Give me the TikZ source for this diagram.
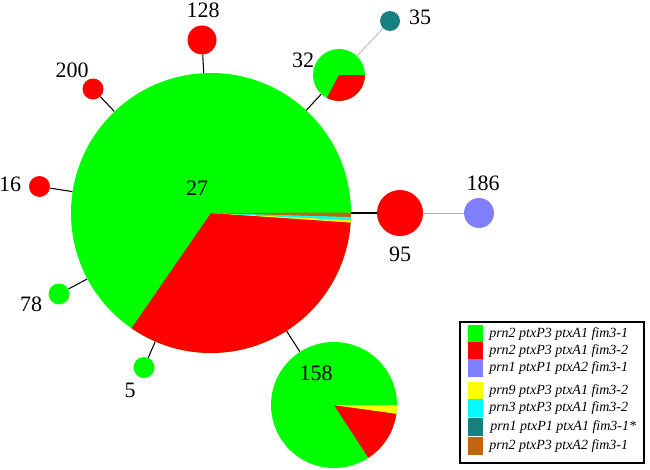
\documentclass[tikz,border=0pt]{standalone}
\usepackage{fontspec}
\setmainfont{Liberation Serif}
\usetikzlibrary{positioning}
\definecolor{stgreen}{RGB}{0,255,0}
\definecolor{stred}{RGB}{255,0,0}
\definecolor{stblue}{RGB}{128,128,255}
\definecolor{styellow}{RGB}{255,255,0}
\definecolor{stcyan}{RGB}{0,255,255}
\definecolor{stteal}{RGB}{24,128,128}
\definecolor{stbrown}{RGB}{192,100,16}
\tikzstyle{st} = [circle, inner sep=0pt, draw=none]
\tikzstyle{num} = [inner sep=0pt, font=\fontsize{16.5}{18}\selectfont]
\tikzstyle{link} = [black, line width=0.8pt]
\tikzstyle{farlink} = [gray!60, line width=0.6pt]
\tikzstyle{swatch} = [rectangle, inner sep=0pt, minimum width=11.25pt, minimum height=13.5pt]
\tikzstyle{entry} = [anchor=west, inner sep=0pt, font=\fontsize{10.5}{12}\selectfont\itshape]
\newcommand{\pieslice}[5]{\fill[#5] (#1.center) -- ++(#2:#4) arc[start angle=#2, end angle=#3, radius=#4] -- cycle;}
\begin{document}
\begin{tikzpicture}[x=0.75pt, y=0.75pt]
\useasboundingbox (0,0) rectangle (650,469);

% Central sequence type
\node[st, fill=stgreen, minimum size=210pt] (n27) at (211,256) {};
\pieslice{n27}{-124.6}{-3.9}{105pt}{stred}
\pieslice{n27}{-3.9}{-2.9}{105pt}{styellow}
\pieslice{n27}{-2.9}{-1.6}{105pt}{stcyan}
\pieslice{n27}{-1.6}{0.2}{105pt}{stbrown}
\node[num] (l27) at (197,281) {27};

% Satellites
\node[st, fill=stred, minimum size=34.5pt] (n95) at (400,256) {};
\node[num] (l95) at (400,215) {95};
\node[st, fill=stblue, minimum size=22.5pt] (n186) at (479,256) {};
\node[num] (l186) at (483,286) {186};

\node[st, fill=stgreen, minimum size=39pt] (n32) at (339,394) {};
\pieslice{n32}{-118}{0}{19.5pt}{stred}
\node[num] (l32) at (303,409) {32};
\node[st, fill=stteal, minimum size=15pt] (n35) at (390,448) {};
\node[num] (l35) at (420,452) {35};

\node[st, fill=stred, minimum size=21.75pt] (n128) at (202,429) {};
\node[num] (l128) at (203,459) {128};
\node[st, fill=stred, minimum size=15.75pt] (n200) at (93,380) {};
\node[num] (l200) at (72,399) {200};
\node[st, fill=stred, minimum size=15.75pt] (n16) at (39.5,282.5) {};
\node[num] (l16) at (10,284.5) {16};
\node[st, fill=stgreen, minimum size=15.75pt] (n78) at (59,175) {};
\node[num] (l78) at (31,164.5) {78};
\node[st, fill=stgreen, minimum size=15.75pt] (n5) at (144,101.5) {};
\node[num] (l5) at (130,79) {5};

\node[st, fill=stgreen, minimum size=94.5pt] (n158) at (334,64) {};
\pieslice{n158}{-57}{-8}{47.25pt}{stred}
\pieslice{n158}{-8}{0}{47.25pt}{styellow}
\node[num] (l158) at (316,96) {158};

% Links
\draw[link] (n27) -- (n95);
\draw[farlink] (n95) -- (n186);
\draw[link] (n27) -- (n32);
\draw[farlink] (n32) -- (n35);
\draw[link] (n27) -- (n128);
\draw[link] (n27) -- (n200);
\draw[link] (n27) -- (n16);
\draw[link] (n27) -- (n78);
\draw[link] (n27) -- (n5);
\draw[link] (n27) -- (n158);

% Legend
\draw[black, line width=0.8pt] (460,147) rectangle (644,6);
\node[swatch, fill=stgreen] (s1) at (475.5,135) {};
\node[swatch, fill=stred] (s2) at (475.5,118) {};
\node[swatch, fill=stblue] (s3) at (475.5,101) {};
\node[swatch, fill=styellow] (s4) at (475.5,78) {};
\node[swatch, fill=stcyan] (s5) at (475.5,61) {};
\node[swatch, fill=stteal] (s6) at (475.5,42) {};
\node[swatch, fill=stbrown] (s7) at (475.5,23) {};
\node[entry] (t1) at (489,135) {prn2 ptxP3 ptxA1 fim3-1};
\node[entry] (t2) at (489,118) {prn2 ptxP3 ptxA1 fim3-2};
\node[entry] (t3) at (489,101) {prn1 ptxP1 ptxA2 fim3-1};
\node[entry] (t4) at (489,78) {prn9 ptxP3 ptxA1 fim3-2};
\node[entry] (t5) at (489,61) {prn3 ptxP3 ptxA1 fim3-2};
\node[entry] (t6) at (490,42) {prn1 ptxP1 ptxA1 fim3-1*};
\node[entry] (t7) at (489,23) {prn2 ptxP3 ptxA2 fim3-1};

\end{tikzpicture}
\end{document}
